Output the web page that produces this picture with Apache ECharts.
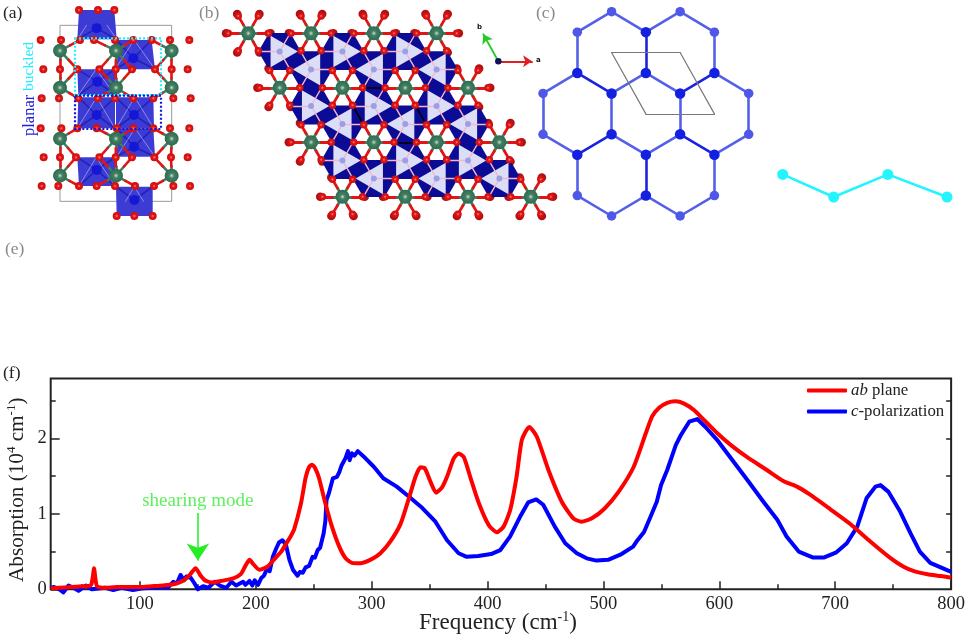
<!DOCTYPE html>
<html>
<head>
<meta charset="utf-8">
<style>html,body{margin:0;padding:0;background:#fff}#main{width:968px;height:641px}</style>
<script src="https://cdn.jsdelivr.net/npm/echarts@6/dist/echarts.min.js"></script>
</head>
<body>
<div id="main"></div>
<script>
// (f) spectra, [frequency, absorption]
const abPlane = [[23,.01],[30,.02],[40,.03],[50,.04],[56,.045],[58,.06],[59.3,.16],[60.4,.28],[61.6,.14],[63,.04],[70,.02],[80,.03],[90,.03],[100,.03],[110,.04],[120,.05],[130,.07],[138,.12],[143,.19],[148,.28],[152,.19],[156,.12],[162,.09],[170,.11],[180,.14],[187,.2],[191,.31],[194.6,.39],[198,.33],[203,.26],[210,.3],[216,.4],[222,.5],[226,.6],[230,.7],[233,.79],[239,1.14],[243,1.48],[246,1.62],[248.5,1.65],[251,1.61],[254.4,1.48],[260,1.14],[265.7,.83],[272,.565],[277.5,.41],[283,.35],[290,.345],[300,.4],[307.5,.477],[316,.63],[325,.87],[332,1.2],[337.8,1.49],[342,1.615],[345.9,1.6],[350.7,1.425],[355.5,1.28],[360.7,1.35],[365,1.49],[370.8,1.735],[375,1.8],[379.5,1.75],[385,1.49],[392.5,1.14],[401,.85],[408,.755],[413.8,.83],[419.5,1.05],[425,1.49],[429.6,1.98],[436,2.15],[442.5,2.02],[452.5,1.58],[464,1.16],[474,.94],[481,.895],[490,.94],[501,1.07],[513,1.29],[526,1.62],[536.6,2.07],[542,2.29],[548,2.405],[555,2.47],[562,2.49],[569.6,2.46],[578,2.375],[587,2.24],[598,2.07],[610,1.91],[624,1.75],[641,1.58],[655.6,1.43],[667,1.36],[678.6,1.25],[695.8,1.06],[713,.865],[730.5,.63],[748,.41],[759,.3],[768,.24],[779.6,.2],[791,.176],[800,.154]]
const cPolarization = [[23,.01],[25.4,.03],[29.7,.01],[34,-.04],[38.4,.05],[42.7,.02],[47,-.02],[53.3,.05],[58.4,0],[64,.01],[70,.02],[77,-.01],[84,.02],[94,-.01],[101,.01],[110,.02],[118.6,.03],[124,.02],[128.7,.1],[132,.08],[135,.19],[138,.12],[140,.17],[144,.15],[147,.08],[150,0],[154.5,.04],[159,.02],[164.5,.1],[169,.05],[174.5,.02],[179,.1],[183,.05],[189,.1],[191,.06],[194.6,.11],[197,.05],[199,.12],[202,.06],[204.7,.15],[207,.18],[210,.28],[212,.24],[214.7,.43],[217.6,.54],[220,.62],[223,.65],[226,.59],[229,.39],[232,.26],[236,.18],[238,.23],[240.5,.22],[243,.29],[246,.31],[249,.43],[251,.42],[253.4,.52],[255.5,.55],[258.5,.74],[260,.9],[261,1.18],[263,1.27],[264.5,1.26],[266.5,1.47],[270,1.49],[272,1.55],[274,1.64],[275.5,1.62],[277.5,1.74],[279.5,1.83],[281,1.71],[283,1.8],[285,1.77],[288,1.83],[293,1.76],[302,1.62],[310,1.47],[321.6,1.36],[332,1.23],[343.5,1.08],[355,.895],[365,.65],[375,.477],[382,.43],[392,.44],[403,.467],[411,.52],[419.5,.7],[428,.96],[435,1.15],[442,1.19],[448,1.12],[458,.83],[467,.61],[477,.477],[485.5,.41],[494,.38],[504,.39],[515.6,.467],[525.6,.565],[529.5,.653],[535,.76],[540.6,.96],[546,1.16],[549.7,1.38],[555,1.58],[562.4,1.91],[566.7,2.04],[574,2.22],[581,2.255],[588,2.15],[598,1.98],[610,1.735],[624,1.45],[638,1.16],[650,.92],[658,.7],[668.5,.5],[681,.42],[690,.42],[701,.49],[710,.61],[719,.83],[727,1.205],[734.7,1.36],[739,1.38],[746,1.29],[756,1.03],[765,.74],[773,.5],[782,.35],[791,.29],[800,.23]]
const xLabels = [100, 200, 300, 400, 500, 600, 700, 800]
const xMinorTicks = [50, 150, 250, 350, 450, 550, 650, 750]
const yLabels = [0, 1, 2]
const yMinorTicks = [.5, 1.5, 2.5]
const shearArrow = [[150, 1.01], [150, .38]]
const shearLabel = [150, 1.17]

// (a) side view, cell units
const aGreenX = [0, 168, 335]
const aGreenY = [76, 187, 340, 451]
const aOxygenRows = [
  [-46, [57, 114, 163]],
  [44, [-58, 3, 60, 102, 165, 220, 275, 330, 388]],
  [132, [-50, 0, 52, 118, 167, 216, 285, 335, 383]],
  [219, [-55, -3, 55, 113, 165, 220, 280, 340, 392]],
  [309, [-58, 4, 52, 110, 170, 220, 280, 330, 388]],
  [396, [-49, 0, 48, 118, 167, 216, 283, 333, 383]],
  [482, [-55, -5, 57, 110, 165, 225, 282, 340, 390]],
  [572, [170, 223, 278]]
]
const aBoxes = [
  [[57,-46],[163,-46],[170,42],[52,42]],
  [[170,44],[275,44],[285,132],[165,132]],
  [[52,132],[165,132],[165,209],[55,209]],
  [[55,216],[165,216],[165,309],[52,309]],
  [[168,216],[280,216],[282,309],[168,309]],
  [[170,309],[280,309],[285,394],[170,394]],
  [[52,396],[165,396],[165,482],[57,482]],
  [[168,484],[278,484],[278,572],[170,572]]
]
const aCentres = [[110,9],[220,99],[112,169],[110,269],[222,269],[222,364],[110,434],[223,524]]
const aBuckledBox = [[45,39],[303,39],[303,209],[45,209]]
const aPlanarBox = [[45,211],[303,211],[303,311],[45,311]]

// (b) top view, lattice cells
const bGreenCells = [[0,0],[1,0],[2,0],[3,0],[0,1],[1,1],[2,1],[3,1],[0,2],[1,2],[2,2],[3,2],[0,3],[1,3],[2,3],[3,3]]
const bOctaCells = [[0,0],[1,0],[2,0],[0,1],[1,1],[2,1],[0,2],[1,2],[2,2]]
const bUnitCell = [[1,1],[2,1],[2,2],[1,2],[1,1]]
const bTriadOrigin = [3.983, .446]
const bTriadA = [4.52, .446]
const bTriadB = [3.744, .016]

// (c) honeycomb, half-spacing columns and rows
const cNodesLight = [[2,0],[4,0],[1,1],[5,1],[0,4],[6,4],[0,6],[6,6],[1,9],[5,9],[2,10],[4,10]]
const cNodesDark = [[3,1],[1,3],[3,3],[5,3],[2,4],[4,4],[2,6],[4,6],[1,7],[3,7],[5,7],[3,9]]
const cBondsLight = [[[2,0],[1,1]],[[2,0],[3,1]],[[4,0],[3,1]],[[4,0],[5,1]],[[1,1],[1,3]],[[5,1],[5,3]],[[3,3],[2,4]],[[3,3],[4,4]],[[1,3],[0,4]],[[5,3],[6,4]],[[0,4],[0,6]],[[2,4],[2,6]],[[4,4],[4,6]],[[6,4],[6,6]],[[0,6],[1,7]],[[2,6],[3,7]],[[4,6],[3,7]],[[6,6],[5,7]],[[1,7],[1,9]],[[5,7],[5,9]],[[1,9],[2,10]],[[3,9],[2,10]],[[3,9],[4,10]],[[5,9],[4,10]]]
const cBondsDark = [[[3,1],[3,3]],[[1,3],[2,4]],[[5,3],[4,4]],[[2,6],[1,7]],[[4,6],[5,7]],[[3,7],[3,9]]]
const cUnitCell = [[2,2],[4,2],[5,5],[3,5],[2,2]]
const buckledX = [0, .31, .64, 1]
const buckledY = [1, 0, 1, 0]

const serif = '"Liberation Serif", "Times New Roman", serif'
const green3d = { type: 'radial', x: .5, y: .5, r: .5, colorStops: [{ offset: 0, color: '#c4e2d2' }, { offset: .35, color: '#447f63' }, { offset: 1, color: '#2f6a50' }] }
const red3d = { type: 'radial', x: .5, y: .5, r: .5, colorStops: [{ offset: 0, color: '#ff8a8a' }, { offset: .4, color: '#e41414' }, { offset: 1, color: '#c81010' }] }

// helpers, each one a series on a hidden panel grid
const axisOf = { main: 0, a: 3, b: 4, c: 5, buckled: 6 }
const atoms = (g, pts, size, color, z) => ({
  type: 'scatter', xAxisIndex: axisOf[g], yAxisIndex: axisOf[g], data: pts, symbolSize: size,
  itemStyle: { color, opacity: 1 }, clip: false, silent: true, z
})
const segments = (g, segs, color, width, z, extra) => ({
  type: 'lines', coordinateSystem: 'cartesian2d', xAxisIndex: axisOf[g], yAxisIndex: axisOf[g],
  data: segs.map(coords => ({ coords })), lineStyle: { color, width, opacity: 1, cap: 'round' }, silent: true, z, ...extra
})
const polygons = (g, polys, style, z) => ({
  type: 'custom', coordinateSystem: 'cartesian2d', xAxisIndex: axisOf[g], yAxisIndex: axisOf[g],
  data: polys.map((_, i) => [i, 0]), silent: true, z, clip: false,
  renderItem: (params, api) => ({
    type: 'polygon', shape: { points: polys[params.dataIndex].map(p => api.coord(p)) }, style: api.style(style)
  }),
  itemStyle: style
})

// half-and-half bonds between a metal atom and its oxygens
function halfBonds(metals, oxygens, reach) {
  const near = [], far = []
  metals.forEach(m => oxygens.forEach(o => {
    if (Math.hypot(m[0] - o[0], m[1] - o[1]) > reach) return
    const mid = [(m[0] + o[0]) / 2, (m[1] + o[1]) / 2]
    near.push([m, mid])
    far.push([mid, o])
  }))
  return { near, far }
}

// panel a
const aGreen = aGreenY.flatMap(y => aGreenX.map(x => [x, y]))
const aOxygen = aOxygenRows.flatMap(([y, xs]) => xs.map(x => [x, y]))
const aBonds = halfBonds(aGreen, aOxygen, 82)
const aSpokes = aCentres.flatMap((c, i) => aBoxes[i].map(p => [c, p]))
const aFaces = aBoxes.flatMap(b => {
  const top = [(b[0][0] + b[1][0]) / 2, b[0][1]]
  return [[top, b[2]], [top, b[3]]]
})

// panel b
const toB = ([u, v]) => [u + v / 2, v * .868]
const ring = (c, r, start) => [0, 1, 2, 3, 4, 5].map(i => {
  const t = (start + i * 60) * Math.PI / 180
  return [c[0] + r * Math.cos(t), c[1] + r * Math.sin(t)]
})
const bGreen = bGreenCells.map(toB)
const bOxygen = bGreen.flatMap(m => ring(m, .32, 0))
const bOxygenBack = bGreen.flatMap(m => ring(m, .355, 0))
const bCentresA = bOctaCells.map(([u, v]) => toB([u + 1 / 3, v + 1 / 3]))
const bCentresB = bOctaCells.map(([u, v]) => toB([u + 2 / 3, v + 2 / 3]))
const bCentres = bCentresA.concat(bCentresB)
const bHexes = bCentres.map(c => ring(c, .34, 0))
const triangle = (c, start) => [0, 1, 2].map(i => {
  const t = (start + i * 120) * Math.PI / 180
  return [c[0] + .29 * Math.cos(t), c[1] + .29 * Math.sin(t)]
})
const bTriangles = bCentresA.map(c => triangle(c, 0)).concat(bCentresB.map(c => triangle(c, 180)))
const bDarkSpokes = bCentres.flatMap(c => ring(c, .34, 0).map(p => [c, p]))
const bPaleSpokes = bCentresA.flatMap(c => ring(c, .33, 60).filter((_, i) => i % 2 === 0).map(p => [c, p]))
  .concat(bCentresB.flatMap(c => ring(c, .33, 0).filter((_, i) => i % 2 === 0).map(p => [c, p])))
const bBonds = halfBonds(bGreen, bOxygen, .34)
const bCellLines = bUnitCell.slice(1).map((p, i) => [toB(bUnitCell[i]), toB(p)])

const hidden = (grid, min, max, inverse) => ({ type: 'value', gridIndex: grid, min, max, inverse, show: false })

const tick = (values, length, position) => ({
  type: 'value', position, axisLabel: { show: false },
  axisLine: { show: false }, splitLine: { show: false },
  axisTick: { show: true, inside: true, length, customValues: values, lineStyle: { color: '#222', width: 1.5 } }
})

const chart = echarts.init(document.getElementById('main'))
chart.setOption({
  animation: false,
  backgroundColor: '#fff',
  textStyle: { fontFamily: serif },
  legend: {
    data: ['ab plane', 'c-polarization'], left: 807, top: 382, orient: 'vertical', padding: 0,
    icon: 'roundRect', itemWidth: 40, itemHeight: 4, itemGap: 4, selectedMode: false,
    formatter: n => n === 'ab plane' ? '{i|ab} plane' : '{i|c}-polarization',
    textStyle: { fontFamily: serif, fontSize: 16.8, color: '#222', padding: [0, 0, 0, -1],
      rich: { i: { fontFamily: serif, fontSize: 16.8, fontStyle: 'italic', color: '#222' } } }
  },
  grid: [
    { left: 50.7, top: 378.5, width: 903.3, height: 210.8, show: true, borderColor: '#222', borderWidth: 2 },
    { left: 60, top: 25.33, width: 111.67, height: 176, show: true, borderColor: '#9a9a9a', borderWidth: 1 },
    { left: 195, top: 0, width: 370, height: 230 },
    { left: 543, top: 11.7, width: 205.7, height: 204.3 },
    { left: 782.7, top: 174.4, width: 164.3, height: 22.6 }
  ],
  xAxis: [
    {
      type: 'value', min: 23, max: 800, splitLine: { show: false },
      axisLine: { show: false },
      axisTick: { show: true, inside: true, length: 8, customValues: xLabels, lineStyle: { color: '#222', width: 1.5 } },
      axisLabel: { customValues: xLabels, fontFamily: serif, fontSize: 18.5, color: '#222', margin: 5 }
    },
    { ...tick(xMinorTicks, 5, 'bottom'), min: 23, max: 800 },
    { type: 'value', min: 23, max: 800, show: false },
    hidden(1, 0, 335),
    hidden(2, -53.3 / 62.77, (565 - 248.3) / 62.77),
    hidden(3, 0, 6),
    hidden(4, 0, 1)
  ],
  yAxis: [
    {
      type: 'value', min: 0, max: 2.792, splitLine: { show: false },
      axisLine: { show: false },
      axisTick: { show: true, inside: true, length: 9, customValues: yLabels, lineStyle: { color: '#222', width: 1.5 } },
      axisLabel: { customValues: yLabels, fontFamily: serif, fontSize: 18.5, color: '#222', margin: 4 }
    },
    { ...tick(yMinorTicks, 5, 'left'), min: 0, max: 2.792 },
    { ...tick([.5, 1, 1.5, 2, 2.5], 5, 'right'), min: 0, max: 2.792 },
    hidden(1, 0, 528, true),
    hidden(2, -33.3 / 62.77, (230 - 33.3) / 62.77, true),
    hidden(3, 0, 10, true),
    hidden(4, 0, 1)
  ],
  series: [
    // panel f
    {
      name: 'c-polarization', type: 'line', data: cPolarization, showSymbol: false, symbol: 'none', clip: false, z: 3,
      itemStyle: { color: '#0000ff' }, lineStyle: { color: '#0000ff', width: 4, join: 'round' }
    },
    {
      name: 'ab plane', type: 'line', data: abPlane, showSymbol: false, symbol: 'none', smooth: .2, clip: false, z: 4,
      itemStyle: { color: '#ff0000' }, lineStyle: { color: '#ff0000', width: 4, join: 'round' }
    },
    {
      type: 'lines', coordinateSystem: 'cartesian2d', xAxisIndex: 0, yAxisIndex: 0, silent: true, z: 5,
      data: [{ coords: shearArrow }], symbol: ['none', 'arrow'], symbolSize: 17,
      lineStyle: { color: '#22ee22', width: 1.5, opacity: 1 }
    },
    {
      type: 'scatter', data: [shearLabel], symbolSize: 0, silent: true, z: 5,
      label: { show: true, position: 'inside', formatter: 'shearing mode', fontFamily: serif, fontSize: 19, color: '#33ee33' }
    },

    // panel a
    polygons('a', aBoxes, { color: '#3c3cd4' }, 2),
    segments('a', aSpokes, '#2222b8', 1.6, 3),
    segments('a', aFaces, 'rgba(225,225,255,.6)', .8, 3),
    atoms('a', aCentres, 10, '#1616d6', 4),
    segments('a', aBonds.near, '#3f7f60', 2.6, 5),
    segments('a', aBonds.far, '#e41414', 2.6, 5),
    atoms('a', aOxygen, 8, red3d, 6),
    atoms('a', aGreen, 14, green3d, 7),
    polygons('a', [aBuckledBox], { color: 'none', borderColor: '#22f0ff', borderWidth: 2.2, borderType: [2, 2] }, 8),
    polygons('a', [aPlanarBox], { color: 'none', borderColor: '#1616d6', borderWidth: 2.2, borderType: [2, 2] }, 8),

    // panel b
    atoms('b', bOxygenBack, 8.5, '#b01212', 1),
    polygons('b', bHexes, { color: '#0b0b96' }, 2),
    segments('b', bDarkSpokes, '#3a1a8e', 1, 2),
    polygons('b', bTriangles, { color: '#dcdef8' }, 3),
    segments('b', bPaleSpokes, '#f4b6c8', 1.4, 4),
    atoms('b', bCentres, 6, '#9aa0e8', 4),
    segments('b', bCellLines, '#000', 1.6, 5),
    segments('b', bBonds.near, '#3f7f60', 2.8, 5),
    segments('b', bBonds.far, '#e41414', 2.8, 5),
    atoms('b', bOxygen, 7.5, red3d, 6),
    atoms('b', bGreen, 14, green3d, 7),
    segments('b', [[bTriadOrigin, bTriadA]], '#e02020', 1.8, 5, { symbol: ['none', 'arrow'], symbolSize: 9 }),
    segments('b', [[bTriadOrigin, bTriadB]], '#22cc22', 1.8, 5, { symbol: ['none', 'arrow'], symbolSize: 9 }),
    atoms('b', [bTriadOrigin], 6.5, '#12125a', 6),

    // panel c
    segments('c', cBondsLight, '#5560e8', 2.6, 2),
    segments('c', cBondsDark, '#1a24e0', 2.6, 2),
    segments('c', cUnitCell.slice(1).map((p, i) => [cUnitCell[i], p]), '#777', 1.2, 3),
    atoms('c', cNodesLight, 9.5, '#4f58e6', 4),
    atoms('c', cNodesDark, 10.5, '#1420e0', 4),
    {
      type: 'line', xAxisIndex: axisOf.buckled, yAxisIndex: axisOf.buckled, data: buckledX.map((x, i) => [x, buckledY[i]]),
      symbol: 'circle', symbolSize: 11, showAllSymbol: true, clip: false, silent: true,
      itemStyle: { color: '#22f5ff' }, lineStyle: { color: '#22f5ff', width: 2.6 }
    }
  ],
  graphic: [
    { type: 'text', left: 3, top: 4, style: { text: '(a)', font: `17.5px ${serif}`, fill: '#222' } },
    { type: 'text', left: 199, top: 4, style: { text: '(b)', font: `17.5px ${serif}`, fill: '#8a8a8a' } },
    { type: 'text', left: 536, top: 4, style: { text: '(c)', font: `17.5px ${serif}`, fill: '#8a8a8a' } },
    { type: 'text', left: 5, top: 240, style: { text: '(e)', font: `17.5px ${serif}`, fill: '#8a8a8a' } },
    { type: 'text', left: 3, top: 364, style: { text: '(f)', font: `17.5px ${serif}`, fill: '#222' } },
    { type: 'text', x: 21, y: 136, rotation: Math.PI / 2, style: { text: 'planar', font: `16.5px ${serif}`, fill: '#2222dd' } },
    { type: 'text', x: 21, y: 91, rotation: Math.PI / 2, style: { text: 'buckled', font: `15.5px ${serif}`, fill: '#22eeff' } },
    { type: 'text', left: 536, top: 57, style: { text: 'a', font: 'bold 7px "DejaVu Sans"', fill: '#111' } },
    { type: 'text', left: 477, top: 24, style: { text: 'b', font: 'bold 7px "DejaVu Sans"', fill: '#111' } },
    {
      type: 'text', x: 419, y: 610,
      style: {
        text: 'Frequency (cm{s|-1}{n|)}', font: `23px ${serif}`, fill: '#222',
        rich: { s: { font: `14px ${serif}`, fill: '#222', verticalAlign: 'top', lineHeight: 26 }, n: { font: `23px ${serif}`, fill: '#222' } }
      }
    },
    {
      type: 'text', x: 5, y: 582, rotation: Math.PI / 2,
      style: {
        text: 'Absorption (10{s|4} cm{s|-1}{n|)}', font: `21.2px ${serif}`, fill: '#222',
        rich: { s: { font: `13px ${serif}`, fill: '#222', verticalAlign: 'top', lineHeight: 25 }, n: { font: `21.2px ${serif}`, fill: '#222' } }
      }
    }
  ]
})
</script>
</body>
</html>
